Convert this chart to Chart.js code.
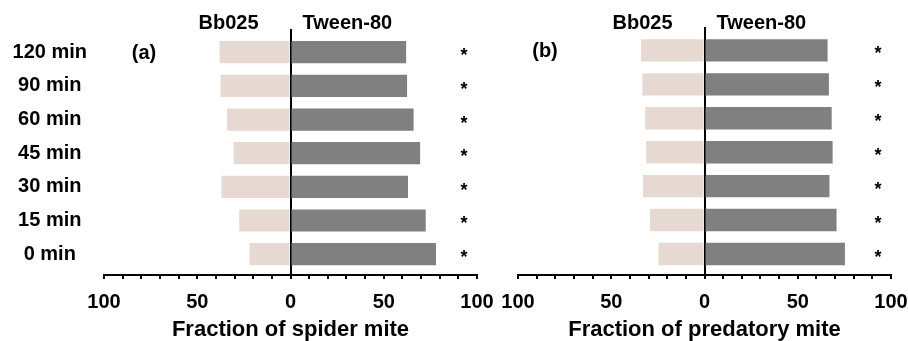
<!DOCTYPE html>
<html>
<head>
<meta charset="utf-8">
<script src="https://cdn.jsdelivr.net/npm/chart.js@4.4.1/dist/chart.umd.min.js"></script>
<style>
  html, body { margin: 0; padding: 0; background: #fff; overflow: hidden; }
  #wrap { position: relative; width: 908px; height: 341px; overflow: hidden; }
  canvas { position: absolute; top: 0; }
  #chartA { left: 0; }
  #chartB { left: 470px; }
</style>
</head>
<body>
<div id="wrap">
  <canvas id="chartA" width="520" height="341"></canvas>
  <canvas id="chartB" width="460" height="341"></canvas>
</div>
<script>
// times, bottom to top
const times = ['0 min', '15 min', '30 min', '45 min', '60 min', '90 min', '120 min'];

// (a) spider mite, % choosing each side
const spiderBb025 = [22, 27.5, 37, 30.5, 34, 37.5, 38];
const spiderTween = [78, 72.5, 63, 69.5, 66, 62.5, 62];
const spiderSig = ['*', '*', '*', '*', '*', '*', '*'];

// (b) predatory mite
const predBb025 = [24.7, 29.2, 33, 31.3, 31.8, 33.3, 34];
const predTween = [75.3, 70.8, 67, 68.7, 68.2, 66.7, 66];
const predSig = ['*', '*', '*', '*', '*', '*', '*'];

// x axis labelled ticks
const majorTicks = [-100, -50, 0, 50, 100];

const FONT = '"Liberation Sans", Arial, Helvetica, sans-serif';
Chart.defaults.font.family = FONT;
Chart.defaults.font.weight = 'bold';
Chart.defaults.font.size = 20;
Chart.defaults.color = '#000';

// headers, panel tag and stars
const panelText = {
    id: 'panelText',
    afterDatasetsDraw(chart, args, opts) {
        const { ctx, chartArea } = chart;
        const x = chart.scales.x, y = chart.scales.y;
        const zero = x.getPixelForValue(0);
        ctx.save();
        ctx.fillStyle = '#000';
        ctx.font = 'bold 20px ' + FONT;
        ctx.textBaseline = 'middle';
        ctx.textAlign = 'right';
        ctx.fillText(chart.data.datasets[0].label, zero - 32, 23);
        ctx.textAlign = 'left';
        ctx.fillText(chart.data.datasets[1].label, zero + 12, 23);
        ctx.textAlign = 'center';
        ctx.fillText(opts.tag, chartArea.left + opts.tagDx, y.getPixelForValue(times.length - 1) + 1);

        ctx.font = 'bold 18px ' + FONT;
        ctx.textBaseline = 'alphabetic';
        opts.sig.forEach((s, i) => {
            ctx.fillText(s, x.getPixelForValue(93), y.getPixelForValue(i) + 9);
        });
        ctx.restore();
    }
};

function makePanel(id, bb, tw, sig, title, tag, tagDx, leftPad, rightPad, yWidth, showY) {
    return new Chart(document.getElementById(id), {
        type: 'bar',
        data: {
            datasets: [
                {
                    label: 'Bb025',
                    data: bb.map((v, i) => ({ x: -v, y: i })),
                    backgroundColor: '#e6d9d1'
                },
                {
                    label: 'Tween-80',
                    data: tw.map((v, i) => ({ x: v, y: i })),
                    backgroundColor: '#808080'
                }
            ]
        },
        options: {
            indexAxis: 'y',
            responsive: false,
            animation: false,
            devicePixelRatio: 1,
            categoryPercentage: 1,
            barPercentage: 0.66,
            layout: { padding: { left: leftPad, right: rightPad, top: 27, bottom: 0 } },
            plugins: {
                legend: { display: false },
                tooltip: { enabled: false },
                panelText: { sig: sig, tag: tag, tagDx: tagDx }
            },
            scales: {
                x: {
                    type: 'linear',
                    stacked: true,
                    min: -100,
                    max: 100,
                    afterFit: s => { s.height = 66; },
                    ticks: {
                        stepSize: 10,
                        autoSkip: false,
                        maxRotation: 0,
                        padding: 11,
                        callback: v => majorTicks.includes(v) ? String(Math.abs(v)) : ''
                    },
                    grid: {
                        color: c => c.tick && c.tick.value === 0 ? '#000' : 'rgba(0,0,0,0)',
                        lineWidth: 2,
                        tickColor: '#000',
                        tickWidth: 2,
                        tickLength: 4
                    },
                    border: { display: true, color: '#000', width: 2 },
                    title: {
                        display: true,
                        text: title,
                        font: { size: 22, weight: 'bold', lineHeight: 1 },
                        padding: 0
                    }
                },
                y: {
                    type: 'linear',
                    stacked: true,
                    display: showY,
                    offset: false,
                    min: -0.62,
                    max: 6.69,
                    afterBuildTicks: s => { s.ticks = times.map((t, i) => ({ value: i })); },
                    afterFit: s => { s.width = yWidth; },
                    ticks: {
                        crossAlign: 'center',
                        padding: 17,
                        callback: v => times[v]
                    },
                    grid: { display: false, drawTicks: false, tickLength: 0, offset: false },
                    border: { display: false }
                }
            }
        },
        plugins: [panelText]
    });
}

makePanel('chartA', spiderBb025, spiderTween, spiderSig, 'Fraction of spider mite', '(a)', 40, 0, 43, 104, true);
makePanel('chartB', predBb025, predTween, predSig, 'Fraction of predatory mite', '(b)', 27, 48, 39, 0, false);
</script>
</body>
</html>
